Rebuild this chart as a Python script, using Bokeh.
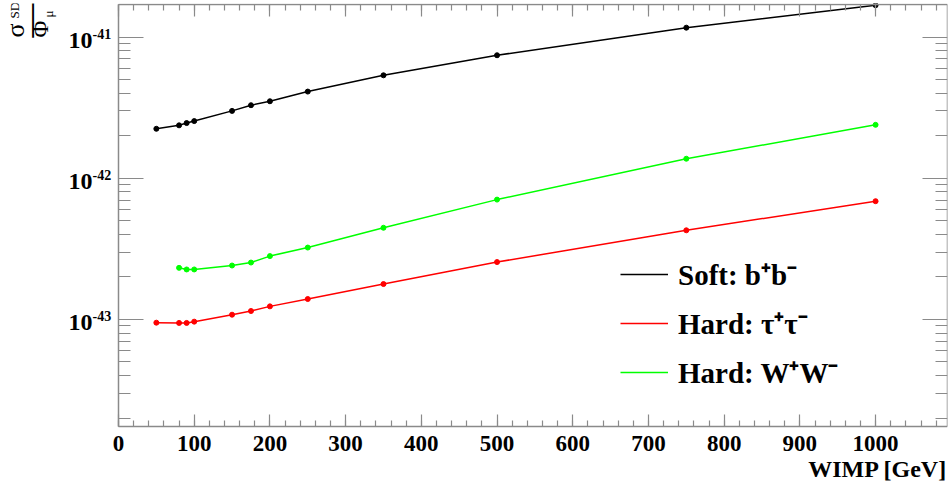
import math
from math import pi
from bokeh.plotting import figure
from bokeh.models import (Range1d, FixedTicker, SingleIntervalTicker, LinearAxis, LogAxis,
                          Legend, LegendItem, Label, CustomJSTickFormatter)
from bokeh.embed import file_html
from bokeh.resources import INLINE

# ---------------- data ----------------
wimp_mass = [50, 80, 90, 100, 150, 175, 200, 250, 350, 500, 750, 1000]
soft_bb = [2.24e-42, 2.37e-42, 2.46e-42, 2.54e-42, 3.00e-42, 3.29e-42, 3.51e-42,
           4.11e-42, 5.36e-42, 7.43e-42, 1.165e-41, 1.68e-41]
hard_tautau = [9.49e-44, 9.45e-44, 9.45e-44, 9.65e-44, 1.081e-43, 1.148e-43, 1.238e-43,
               1.396e-43, 1.782e-43, 2.55e-43, 4.28e-43, 6.88e-43]
wimp_mass_ww = [80, 90, 100, 150, 175, 200, 250, 350, 500, 750, 1000]
hard_ww = [2.32e-43, 2.26e-43, 2.26e-43, 2.41e-43, 2.53e-43, 2.81e-43, 3.23e-43,
           4.46e-43, 7.06e-43, 1.375e-42, 2.39e-42]

series_labels = ["Soft: b\u207ab\u207b", "Hard: \u03c4\u207a\u03c4\u207b", "Hard: W\u207aW\u207b"]
series_colors = ["black", "#ff0000", "#00ff00"]

x_tick_values = list(range(0, 1001, 100))
y_decade_exponents = [-44, -43, -42, -41]
x_title = "WIMP [GeV]"

# axis box limits (data)
BOX_X0, BOX_X1 = 0, 1095
BOX_Y0, BOX_Y1 = 1.746e-44, 1.70e-41

# ---------------- layout geometry (canvas pixels) ----------------
W, H = 950, 486
FR_L, FR_R, FR_T, FR_B = 3, 947, 3, 483        # bokeh frame (whole canvas, tiny border)
BOX_L, BOX_R, BOX_T, BOX_B = 118, 947, 4, 426  # visible axis box

px_per_x = (BOX_R - BOX_L) / (BOX_X1 - BOX_X0)
x_start = BOX_X0 - (BOX_L - FR_L) / px_per_x
x_end = BOX_X1 + (FR_R - BOX_R) / px_per_x
ly0, ly1 = math.log10(BOX_Y0), math.log10(BOX_Y1)
px_per_dec = (BOX_B - BOX_T) / (ly1 - ly0)
y_start = 10 ** (ly0 - (FR_B - BOX_B) / px_per_dec)
y_end = 10 ** (ly1 + (BOX_T - FR_T) / px_per_dec)


def fx(cx):  # canvas x -> frame-relative screen x
    return cx - FR_L


def fy(cy):  # canvas y -> frame-relative screen y (upwards)
    return FR_B - cy


FONT = "Liberation Serif"
AXIS_COLOR = "#8a8a8a"
MID = 0.3375  # height of the "middle" text line above the baseline, in em

p = figure(width=W, height=H, x_range=Range1d(x_start, x_end), y_range=Range1d(y_start, y_end),
           y_axis_type="log", output_backend="svg", toolbar_location=None,
           min_border_left=FR_L, min_border_right=W - FR_R, min_border_top=FR_T,
           min_border_bottom=H - FR_B)
p.xgrid.visible = False
p.ygrid.visible = False
p.outline_line_color = None
p.background_fill_color = "white"
p.border_fill_color = "white"

# only ticks that fall inside the axis box
y_major = [10.0 ** e for e in y_decade_exponents if BOX_Y0 <= 10.0 ** e <= BOX_Y1]
y_minor = [k * 10.0 ** e for e in y_decade_exponents for k in range(2, 10)
           if BOX_Y0 <= k * 10.0 ** e <= BOX_Y1]


def style_axis(ax, major_len, minor_len):
    ax.axis_line_color = AXIS_COLOR
    ax.axis_line_width = 1.5
    ax.major_tick_line_color = AXIS_COLOR
    ax.minor_tick_line_color = AXIS_COLOR
    ax.major_tick_line_width = 1.2
    ax.minor_tick_line_width = 1.2
    ax.major_tick_in = major_len
    ax.major_tick_out = 0
    ax.minor_tick_in = minor_len
    ax.minor_tick_out = 0
    ax.formatter = CustomJSTickFormatter(code="return ''")
    ax.major_label_text_font_size = "1px"
    ax.major_label_standoff = 0


xa = p.xaxis[0]
xa.ticker = SingleIntervalTicker(interval=100, num_minor_ticks=5)
style_axis(xa, 12, 6)
xa.fixed_location = BOX_Y0
xa.bounds = (BOX_X0, BOX_X1)

top_ax = LinearAxis(ticker=SingleIntervalTicker(interval=100, num_minor_ticks=5))
style_axis(top_ax, 12, 6)
top_ax.fixed_location = BOX_Y1
top_ax.bounds = (BOX_X0, BOX_X1)
p.add_layout(top_ax, "above")

ya = p.yaxis[0]
ya.ticker = FixedTicker(ticks=y_major, minor_ticks=y_minor)
style_axis(ya, 25, 12)
ya.fixed_location = BOX_X0
ya.bounds = (BOX_Y0, BOX_Y1)

right_ax = LogAxis(ticker=FixedTicker(ticks=y_major, minor_ticks=y_minor))
style_axis(right_ax, 25, 12)
right_ax.fixed_location = BOX_X1
right_ax.bounds = (BOX_Y0, BOX_Y1)
p.add_layout(right_ax, "right")

# ---------------- series ----------------
r_soft = p.line(wimp_mass, soft_bb, line_color=series_colors[0], line_width=1.5)
p.scatter(wimp_mass, soft_bb, size=5, color=series_colors[0])
r_tau = p.line(wimp_mass, hard_tautau, line_color=series_colors[1], line_width=1.5)
p.scatter(wimp_mass, hard_tautau, size=5, color=series_colors[1])
r_ww = p.line(wimp_mass_ww, hard_ww, line_color=series_colors[2], line_width=1.5)
p.scatter(wimp_mass_ww, hard_ww, size=5, color=series_colors[2])

legend = Legend(items=[LegendItem(label=series_labels[0], renderers=[r_soft]),
                       LegendItem(label=series_labels[1], renderers=[r_tau]),
                       LegendItem(label=series_labels[2], renderers=[r_ww])],
                location=(fx(620), fy(391)), padding=0, margin=0, spacing=10,
                glyph_width=48, glyph_height=30, label_height=30, label_standoff=10,
                label_text_font=FONT, label_text_font_style="bold",
                label_text_font_size="29px", label_text_color="black",
                border_line_alpha=0, background_fill_alpha=0)
p.add_layout(legend)

# ---------------- tick labels ----------------
for v in x_tick_values:
    p.add_layout(Label(x=v, y=fy(442.5), x_units="data", y_units="screen", text=str(v),
                       text_align="center", text_baseline="middle",
                       text_font=FONT, text_font_style="bold", text_font_size="23px",
                       text_color="black"))

for e in y_decade_exponents:
    v = 10.0 ** e
    if not (BOX_Y0 <= v <= BOX_Y1):
        continue
    p.add_layout(Label(x=fx(92), y=v, x_units="screen", y_units="data", text="10",
                       text_align="right", text_baseline="middle", y_offset=-3,
                       text_font=FONT, text_font_style="bold", text_font_size="24px",
                       text_color="black"))
    p.add_layout(Label(x=fx(92), y=v, x_units="screen", y_units="data", text=str(e),
                       text_align="left", text_baseline="middle", y_offset=3,
                       text_font=FONT, text_font_style="bold", text_font_size="14px",
                       text_color="black"))

# ---------------- axis titles ----------------
p.add_layout(Label(x=BOX_X1, y=fy(468), x_units="data", y_units="screen", text=x_title,
                   text_align="right", text_baseline="middle",
                   text_font=FONT, text_font_style="bold", text_font_size="24px",
                   text_color="black"))

# y title: sigma^SD / Phi_mu as a rotated fraction
# (text, glyph baseline x, start y in canvas px, font size)
title_parts = [("\u03c3", 24, 37, 26), ("SD", 18, 18, 13),
               ("\u2014", 32, 37, 37),
               ("\u03a6", 48, 37, 23), ("\u03bc", 52.5, 17, 13)]
for txt, bx, by, fs in title_parts:
    if txt == "\u2014":
        anchor_x = bx - (MID - 0.25) * fs   # centre the dash stroke on x = bx
    else:
        anchor_x = bx - MID * fs            # middle line of the rotated text
    p.add_layout(Label(x=fx(anchor_x), y=fy(by), x_units="screen", y_units="screen", text=txt,
                       angle=pi / 2, text_align="left", text_baseline="middle",
                       text_font=FONT, text_font_size=f"{fs}px", text_color="black"))

open("out.html", "w").write(file_html(p, INLINE))
